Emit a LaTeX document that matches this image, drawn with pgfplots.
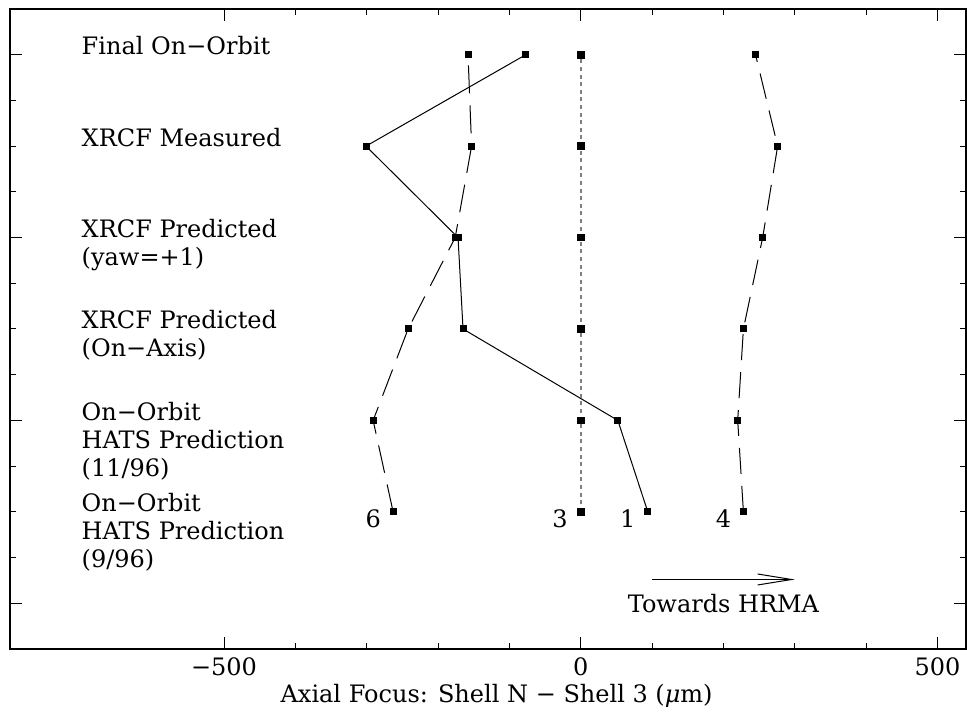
\documentclass[border=0pt]{standalone}
\usepackage{pgfplots}
\pgfplotsset{compat=1.18}
\usepackage{fontspec}
\setmainfont{DejaVu Serif}
\usetikzlibrary{calc,arrows.meta}

\begin{document}
\fontsize{12}{14}\selectfont
\begin{tikzpicture}
\begin{axis}[
  scale only axis, width=478pt, height=320pt,
  xmin=-800, xmax=540, ymin=-0.5, ymax=6.5,
  xtick={-500,0,500}, xticklabels={−500,0,500},
  minor x tick num=4,
  ytick={0,2,4,6}, yticklabels={}, minor y tick num=3,
  major tick length=6pt, minor tick length=3pt,
  axis line style={line width=0.7pt},
  every tick/.style={black, line width=0.5pt},
  xlabel={Axial Focus: Shell N − Shell 3 ({\itshape μ}m)},
  xlabel style={at={(axis description cs:0.509,0)}, anchor=base, yshift=-27pt},
  clip=false,
]
% shell 1
\addplot[black, line width=0.5pt, mark=square*, mark size=1.5pt] coordinates {
  (94,1) (52,2) (-165,3) (-172,4) (-301,5) (-77,6)
};
% shell 6
\addplot[black, line width=0.5pt, dash pattern=on 14pt off 6pt, mark=square*, mark size=1.5pt, mark options={solid}] coordinates {
  (-263,1) (-291,2) (-242,3) (-176,4) (-153,5) (-158,6)
};
% shell 4
\addplot[black, line width=0.5pt, dash pattern=on 13pt off 6pt, mark=square*, mark size=1.5pt, mark options={solid}] coordinates {
  (228,1) (220,2) (228,3) (255,4) (276,5) (245,6)
};
% shell 3 (reference)
\addplot[gray, line width=0.9pt, dash pattern=on 2pt off 1.8pt, mark=square*, mark size=1.5pt, mark options={solid, black}] coordinates {
  (0,1) (0,2) (0,3) (0,4) (0,5) (0,6)
};

\begin{scope}[every node/.style={anchor=base west, inner sep=0pt}]
\node at (axis cs:-700,6) {Final On−Orbit};
\node at (axis cs:-700,5) {XRCF Measured};
\node at (axis cs:-700,4) {XRCF Predicted};
\node[yshift=-14pt] at (axis cs:-700,4) {(yaw=+1)};
\node at (axis cs:-700,3) {XRCF Predicted};
\node[yshift=-14pt] at (axis cs:-700,3) {(On−Axis)};
\node at (axis cs:-700,2) {On−Orbit};
\node[yshift=-14pt] at (axis cs:-700,2) {HATS Prediction};
\node[yshift=-28pt] at (axis cs:-700,2) {(11/96)};
\node at (axis cs:-700,1) {On−Orbit};
\node[yshift=-14pt] at (axis cs:-700,1) {HATS Prediction};
\node[yshift=-28pt] at (axis cs:-700,1) {(9/96)};
\end{scope}

\node[anchor=base] at (axis cs:-291,0.83) {6};
\node[anchor=base] at (axis cs:-29,0.83) {3};
\node[anchor=base] at (axis cs:66,0.83) {1};
\node[anchor=base] at (axis cs:200,0.83) {4};

\draw[-{Straight Barb[length=17pt,width=5.5pt]}, line width=0.5pt] (axis cs:100,0.26) -- (axis cs:300,0.26);
\node[anchor=base] at (axis cs:200,-0.1) {Towards HRMA};
\end{axis}
\pgfresetboundingbox
\path[use as bounding box] ($(current axis.south west)+(-5pt,-32pt)$) rectangle ($(current axis.north east)+(0.5pt,4.5pt)$);
\end{tikzpicture}
\end{document}
